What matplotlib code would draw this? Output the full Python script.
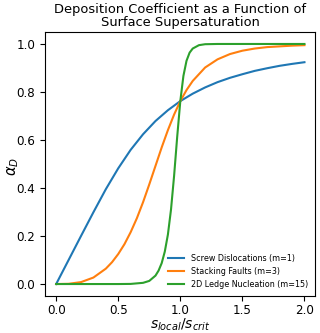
import matplotlib
matplotlib.use("Agg")
import matplotlib.pyplot as plt

# values
x_screw = [0.0, 0.1, 0.2, 0.3, 0.4, 0.5, 0.6, 0.7, 0.8, 0.9, 1.0,
           1.1, 1.2, 1.3, 1.4, 1.5, 1.6, 1.7, 1.8, 1.9, 2.0]
y_screw = [0.0, 0.100, 0.200, 0.299, 0.395, 0.482, 0.559, 0.624, 0.679, 0.724, 0.762,
           0.793, 0.819, 0.841, 0.859, 0.874, 0.888, 0.899, 0.909, 0.917, 0.924]

x_stack = [0.0, 0.1, 0.2, 0.3, 0.4, 0.45, 0.5, 0.55, 0.6, 0.65, 0.7, 0.75, 0.8, 0.85,
           0.9, 0.95, 1.0, 1.05, 1.1, 1.2, 1.3, 1.4, 1.5, 1.6, 1.7, 1.8, 1.9, 2.0]
y_stack = [0.0, 0.001, 0.008, 0.027, 0.064, 0.091, 0.125, 0.166, 0.216, 0.274, 0.341,
           0.415, 0.492, 0.569, 0.641, 0.706, 0.762, 0.808, 0.846, 0.902, 0.936,
           0.958, 0.972, 0.981, 0.987, 0.990, 0.993, 0.995]

x_ledge = [0.0, 0.5, 0.6, 0.7, 0.75, 0.8, 0.825, 0.85, 0.875, 0.9, 0.925, 0.95, 0.975,
           1.0, 1.025, 1.05, 1.075, 1.1, 1.15, 1.2, 1.3, 1.4, 1.6, 1.8, 2.0]
y_ledge = [0.0, 0.0, 0.0005, 0.005, 0.013, 0.035, 0.056, 0.087, 0.135, 0.206, 0.310,
           0.451, 0.614, 0.762, 0.867, 0.930, 0.964, 0.981, 0.995, 0.999, 1.0,
           1.0, 1.0, 1.0, 1.0]

labels = ["Screw Dislocations (m=1)", "Stacking Faults (m=3)",
          "2D Ledge Nucleation (m=15)"]

fig = plt.figure(figsize=(3.2, 3.33), dpi=100)
ax = fig.add_axes([0.1406, 0.111, 0.8438, 0.793])

ax.plot(x_screw, y_screw, color="#1f77b4", lw=1.5, label=labels[0])
ax.plot(x_stack, y_stack, color="#ff7f0e", lw=1.5, label=labels[1])
ax.plot(x_ledge, y_ledge, color="#2ca02c", lw=1.5, label=labels[2])

ax.set_title("Deposition Coefficient as a Function of\nSurface Supersaturation",
             fontsize=9.4, linespacing=1.0, pad=4)
ax.set_xlabel(r"$s_{local}/s_{crit}$", fontsize=10)
ax.set_ylabel(r"$\alpha_D$", fontsize=10.5)
ax.xaxis.set_label_coords(0.5, -0.078)
ax.yaxis.set_label_coords(-0.09, 0.49)
ax.tick_params(labelsize=8.6)
ax.tick_params(axis="x", pad=2.5)
ax.set_xticks([0.0, 0.5, 1.0, 1.5, 2.0])
ax.set_xlim(-0.09, 2.085)
ax.legend(loc="lower right", fontsize=5.8, frameon=False)

fig.savefig("out.png", dpi=100)
